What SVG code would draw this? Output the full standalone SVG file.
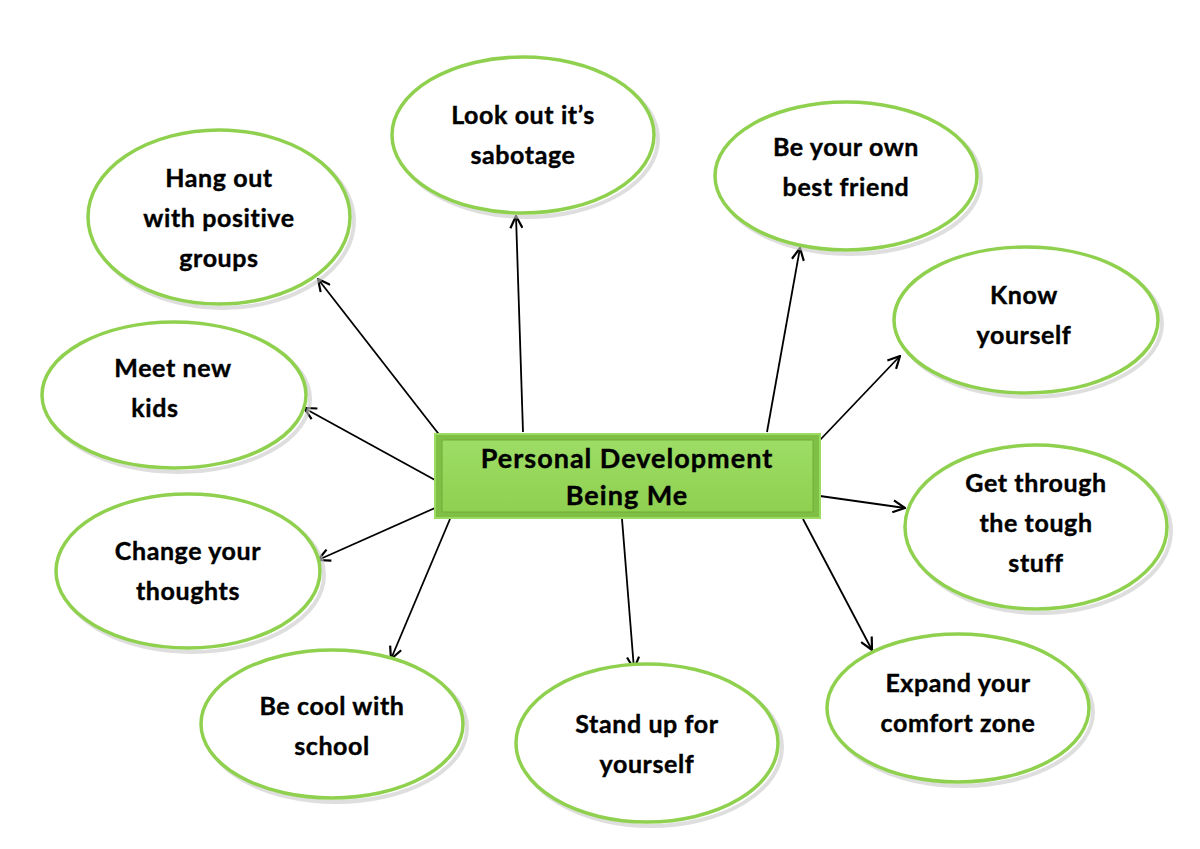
<svg xmlns="http://www.w3.org/2000/svg" width="1200" height="849" viewBox="0 0 1200 849">
<style>
.node ellipse.b{fill:#fff;stroke:#8fd14f;stroke-width:3.5}
.node ellipse.s{fill:none;stroke:#c8c8c8;stroke-width:4;opacity:0.6}
.t{font-family:Lato,"Open Sans",sans-serif;font-weight:bold;font-size:25px;letter-spacing:0.6px;fill:#000;stroke:#000;stroke-width:0.4;text-anchor:middle}
.ct{font-size:27px;letter-spacing:1px}
.c line{stroke:#000;stroke-width:1.8;marker-end:url(#ah)}
</style>
<defs>
<marker id="ah" viewBox="0 0 14 14" refX="13" refY="7" markerWidth="14" markerHeight="14" markerUnits="userSpaceOnUse" orient="auto">
<path d="M1,1 L13,7 L1,13" fill="none" stroke="#000" stroke-width="2.2"/>
</marker>
<linearGradient id="g" x1="0" y1="0" x2="0" y2="1">
<stop offset="0" stop-color="#9ddd66"/><stop offset="1" stop-color="#8fd050"/>
</linearGradient>
</defs>
<rect width="1200" height="849" fill="#fff"/>
<g class="c" id="connectors">
<line x1="441" y1="437" x2="318" y2="279"/>
<line x1="523" y1="432" x2="516" y2="216"/>
<line x1="767" y1="432" x2="800" y2="248"/>
<line x1="820" y1="440" x2="900" y2="356"/>
<line x1="435" y1="480" x2="304" y2="408"/>
<line x1="820" y1="496" x2="905" y2="508"/>
<line x1="435" y1="508" x2="318" y2="560"/>
<line x1="450" y1="519" x2="391" y2="659"/>
<line x1="622" y1="519" x2="634" y2="669"/>
<line x1="803" y1="519" x2="872" y2="650"/>
</g>
<g class="node" id="n-hang">
<ellipse class="s" cx="223" cy="221" rx="131" ry="87"/>
<ellipse class="b" cx="219" cy="217" rx="131" ry="87"/>
<text class="t" x="219" y="187">Hang out</text>
<text class="t" x="219" y="227">with positive</text>
<text class="t" x="219" y="267">groups</text>
</g>
<g class="node" id="n-look">
<ellipse class="s" cx="527" cy="139" rx="131" ry="78"/>
<ellipse class="b" cx="523" cy="135" rx="131" ry="78"/>
<text class="t" x="523" y="124">Look out it’s</text>
<text class="t" x="523" y="164">sabotage</text>
</g>
<g class="node" id="n-friend">
<ellipse class="s" cx="850" cy="180" rx="131" ry="74"/>
<ellipse class="b" cx="846" cy="176" rx="131" ry="74"/>
<text class="t" x="846" y="156">Be your own</text>
<text class="t" x="846" y="196">best friend</text>
</g>
<g class="node" id="n-know">
<ellipse class="s" cx="1030" cy="324" rx="132" ry="73"/>
<ellipse class="b" cx="1026" cy="320" rx="132" ry="73"/>
<text class="t" x="1024" y="304">Know</text>
<text class="t" x="1024" y="344">yourself</text>
</g>
<g class="node" id="n-meet">
<ellipse class="s" cx="178" cy="399" rx="132" ry="73"/>
<ellipse class="b" cx="174" cy="395" rx="132" ry="73"/>
<text class="t" x="173" y="377">Meet new</text>
<text class="t" x="155" y="417">kids</text>
</g>
<g class="node" id="n-tough">
<ellipse class="s" cx="1040" cy="531" rx="131" ry="82"/>
<ellipse class="b" cx="1036" cy="527" rx="131" ry="82"/>
<text class="t" x="1036" y="492">Get through</text>
<text class="t" x="1036" y="532">the tough</text>
<text class="t" x="1036" y="572">stuff</text>
</g>
<g class="node" id="n-thoughts">
<ellipse class="s" cx="192" cy="575" rx="132" ry="77"/>
<ellipse class="b" cx="188" cy="571" rx="132" ry="77"/>
<text class="t" x="188" y="560">Change your</text>
<text class="t" x="188" y="600">thoughts</text>
</g>
<g class="node" id="n-school">
<ellipse class="s" cx="336" cy="728" rx="131" ry="74"/>
<ellipse class="b" cx="332" cy="724" rx="131" ry="74"/>
<text class="t" x="332" y="715">Be cool with</text>
<text class="t" x="332" y="755">school</text>
</g>
<g class="node" id="n-stand">
<ellipse class="s" cx="651" cy="747" rx="131" ry="79"/>
<ellipse class="b" cx="647" cy="743" rx="131" ry="79"/>
<text class="t" x="647" y="733">Stand up for</text>
<text class="t" x="647" y="773">yourself</text>
</g>
<g class="node" id="n-expand">
<ellipse class="s" cx="962" cy="712" rx="131" ry="74"/>
<ellipse class="b" cx="958" cy="708" rx="131" ry="74"/>
<text class="t" x="958" y="692">Expand your</text>
<text class="t" x="958" y="732">comfort zone</text>
</g>
<g id="n-center">
<rect x="435" y="434" width="385" height="84" fill="#7fbf45"/>
<rect x="435" y="434" width="385" height="84" fill="none" stroke="#9bdc62" stroke-width="2"/>
<rect x="442" y="440" width="371" height="72" fill="url(#g)" stroke="#6fae38" stroke-width="1"/>
<text class="t ct" x="627" y="468">Personal Development</text>
<text class="t ct" x="627" y="505">Being Me</text>
</g>
</svg>
